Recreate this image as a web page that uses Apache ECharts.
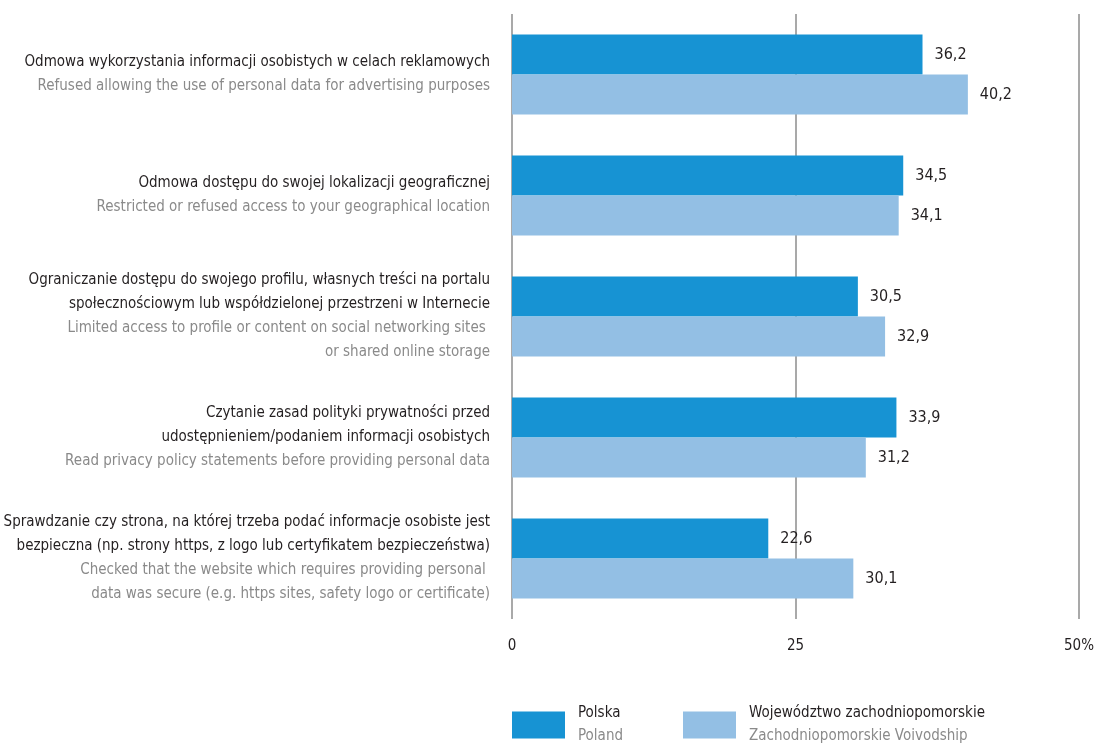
<!DOCTYPE html>
<html>
<head>
<meta charset="utf-8">
<script src="https://cdn.jsdelivr.net/npm/echarts@6/dist/echarts.min.js"></script>
<style>
  html, body { margin: 0; padding: 0; background: #fff; }
  #chart { width: 1094px; height: 743px; }
</style>
</head>
<body>
<div id="chart"></div>
<script>
// category labels: Polish lines (dark) and English lines (grey)
var plLines = [
    ['Odmowa wykorzystania informacji osobistych w celach reklamowych'],
    ['Odmowa dostępu do swojej lokalizacji geograficznej'],
    ['Ograniczanie dostępu do swojego profilu, własnych treści na portalu', 'społecznościowym lub współdzielonej przestrzeni w Internecie'],
    ['Czytanie zasad polityki prywatności przed', 'udostępnieniem/podaniem informacji osobistych'],
    ['Sprawdzanie czy strona, na której trzeba podać informacje osobiste jest', 'bezpieczna (np. strony https, z logo lub certyfikatem bezpieczeństwa)']
];
var enLines = [
    ['Refused allowing the use of personal data for advertising purposes'],
    ['Restricted or refused access to your geographical location'],
    ['Limited access to profile or content on social networking sites ', 'or shared online storage'],
    ['Read privacy policy statements before providing personal data'],
    ['Checked that the website which requires providing personal ', 'data was secure (e.g. https sites, safety logo or certificate)']
];
var polska = [36.2, 34.5, 30.5, 33.9, 22.6];
var zachodniopomorskie = [40.2, 34.1, 32.9, 31.2, 30.1];
var seriesNames = ['Polska', 'Województwo zachodniopomorskie'];
var seriesNamesEn = ['Poland', 'Zachodniopomorskie Voivodship'];

var FONT = '"DejaVu Sans Condensed", "Liberation Sans Narrow", sans-serif';
var categories = plLines.map(function (p, i) { return 'c' + i; });

var chart = echarts.init(document.getElementById('chart'));

function valueLabel(p) {
    return p.value.toFixed(1).replace('.', ',');
}

var option = {
    animation: false,
    textStyle: { fontFamily: FONT },
    grid: { left: 512, right: 15, top: 14, bottom: 124, containLabel: false, outerBoundsMode: 'none' },
    legend: {
        left: 512,
        top: 706,
        padding: 0,
        itemWidth: 53,
        itemHeight: 27,
        itemGap: 60,
        icon: 'rect',
        data: seriesNames,
        formatter: function (name) {
            var i = seriesNames.indexOf(name);
            return '{pl|' + name + '}\n{en|' + seriesNamesEn[i] + '}';
        },
        textStyle: {
            fontFamily: FONT,
            padding: [0, 0, 0, 8],
            rich: {
                pl: { fontSize: 15, color: '#231f20', lineHeight: 23, fontFamily: FONT },
                en: { fontSize: 15, color: '#8a8a8a', lineHeight: 23, fontFamily: FONT }
            }
        }
    },
    xAxis: {
        type: 'value',
        min: 0,
        max: 50,
        interval: 25,
        axisLine: { show: false },
        axisTick: { show: false },
        axisLabel: {
            margin: 20,
            fontSize: 15,
            color: '#231f20',
            fontFamily: FONT,
            formatter: function (v) { return v === 50 ? v + '%' : String(v); }
        },
        splitLine: { show: true, lineStyle: { color: '#8c8c8c', width: 1.5 } }
    },
    yAxis: {
        type: 'category',
        inverse: true,
        data: categories,
        axisLine: { show: false },
        axisTick: { show: false },
        axisLabel: {
            margin: 22,
            align: 'right',
            formatter: function (v, idx) {
                var s = plLines[idx].map(function (l) { return '{pl|' + l + '}'; });
                var e = enLines[idx].map(function (l) { return '{en|' + l + '}'; });
                return s.concat(e).join('\n');
            },
            rich: {
                pl: { fontSize: 15, color: '#231f20', lineHeight: 24, fontFamily: FONT, align: 'right' },
                en: { fontSize: 15, color: '#8a8a8a', lineHeight: 24, fontFamily: FONT, align: 'right' }
            }
        }
    },
    series: [
        {
            name: seriesNames[0],
            type: 'bar',
            data: polska,
            barGap: '0%',
            barCategoryGap: '34%',
            itemStyle: { color: '#1793d3' },
            label: {
                show: true, position: 'right', distance: 12,
                fontSize: 16, color: '#231f20', fontFamily: FONT,
                formatter: valueLabel
            }
        },
        {
            name: seriesNames[1],
            type: 'bar',
            data: zachodniopomorskie,
            barGap: '0%',
            barCategoryGap: '34%',
            itemStyle: { color: '#93bfe4' },
            label: {
                show: true, position: 'right', distance: 12,
                fontSize: 16, color: '#231f20', fontFamily: FONT,
                formatter: valueLabel
            }
        }
    ]
};

chart.setOption(option);
</script>
</body>
</html>
